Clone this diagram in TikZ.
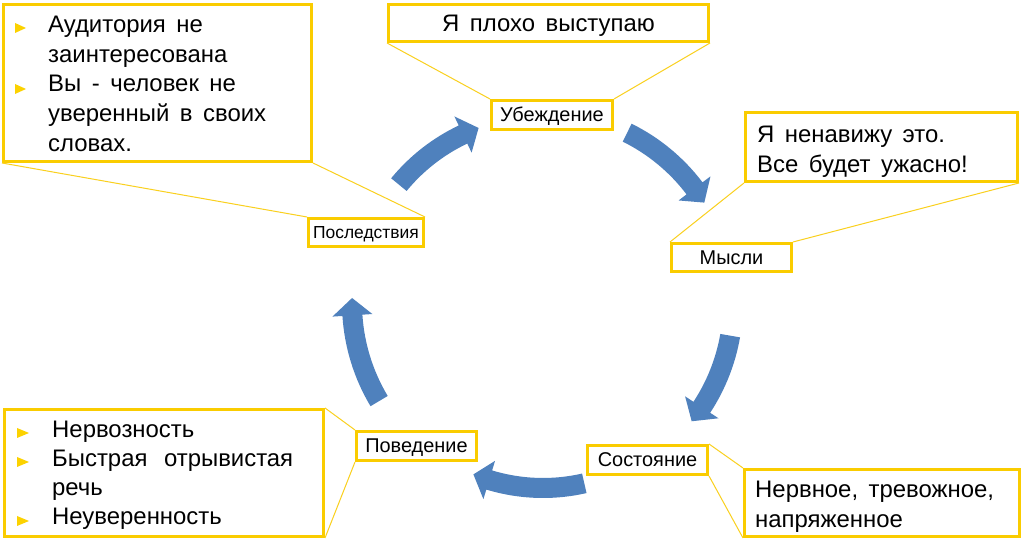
\documentclass[tikz,border=0pt]{standalone}
\usepackage{fontspec}
\setmainfont{Liberation Sans}
\usetikzlibrary{calc}
\definecolor{ybord}{RGB}{250,204,0}
\definecolor{yline}{RGB}{250,208,30}
\definecolor{ybul}{RGB}{252,210,0}
\definecolor{ablue}{RGB}{79,129,189}
\newcommand\bigfont{\fontsize{24}{30}\selectfont}
\newcommand\bigfontb{\fontsize{24}{29.3}\selectfont}
\newcommand\widesp{\spaceskip=10.5bp\relax}
\newcommand\cycarrow[3]{%
 \pgfmathsetmacro\caHB{#3+5.2}%
 \pgfmathsetmacro\caRO{#1+10}%
 \pgfmathsetmacro\caRI{#1-10}%
 \pgfmathsetmacro\caHO{#1+20}%
 \pgfmathsetmacro\caHI{#1-20}%
 \fill[ablue] (#2:\caRO) arc[start angle=#2, end angle=\caHB, radius=\caRO] -- (\caHB:\caHO) -- (#3:#1) -- (\caHB:\caHI) -- (\caHB:\caRI) arc[start angle=\caHB, end angle=#2, radius=\caRI] -- cycle;}
\begin{document}
\begin{tikzpicture}[x=1bp,y=1bp,
 box/.style={draw=ybord, line width=3bp, fill=white, inner sep=0pt},
 lab/.style={box, font=\fontsize{20}{24}\selectfont, text height=14bp, text depth=0bp},
 big/.style={font=\bigfont, inner sep=0pt, anchor=north west, align=left, text width=#1},
 conn/.style={draw=yline, line width=1bp},
 bul/.style={fill=ybul}]
\useasboundingbox[fill=white] (0,0) rectangle (1024,549);

% cycle arrows
\begin{scope}[shift={(543,246)}]
\cycarrow{186.5}{140.6}{110.2}
\cycarrow{190}{63.7}{31.9}
\cycarrow{190}{-9.9}{-38.5}
\cycarrow{185}{-77.1}{-112.1}
\cycarrow{191}{210.9}{178.5}
\end{scope}

% boxes
\node[box, minimum width=308bp, minimum height=157bp] (b1) at (157.5,466) {};
\node[big=260bp] (b1t) at (48,535) {\widesp\rule{0pt}{18bp}Аудитория не\\заинтересована\\Вы - человек не\\уверенный в своих\\словах.};

\node[box, minimum width=320bp, minimum height=37bp, font=\bigfont, text height=23bp, text depth=5bp] (bTop) at (548.5,526) {\widesp Я плохо выступаю};

\node[lab, minimum width=121bp, minimum height=29bp] (ub) at (552,434) {Убеждение};
\node[lab, minimum width=120bp, minimum height=28bp] (mys) at (731.5,291.5) {Мысли};
\node[lab, minimum width=115bp, minimum height=28bp, font=\fontsize{17.5}{21}\selectfont, text height=12.5bp] (pos) at (366,316.5) {Последствия};
\node[lab, minimum width=120bp, minimum height=29bp] (pov) at (416.5,103) {Поведение};
\node[lab, minimum width=120bp, minimum height=29bp] (sos) at (647.5,89) {Состояние};

\node[box, minimum width=272bp, minimum height=69bp] (bRT) at (881.5,402) {};
\node[big=250bp] (bRTt) at (757,425) {\widesp\rule{0pt}{18bp}Я ненавижу это.\\Все будет ужасно!};

\node[box, minimum width=319bp, minimum height=127bp] (bLB) at (164,76) {};
\node[big=260bp, font=\bigfontb] (bLBt) at (52,130) {\widesp\rule{0pt}{18bp}Нервозность\\Быстрая\hspace{6bp} отрывистая\\речь\\Неуверенность};

\node[box, minimum width=275bp, minimum height=67bp] (bRB) at (882,46) {};
\node[big=260bp] (bRBt) at (755,70) {\widesp\rule{0pt}{18bp}Нервное, тревожное,\\напряженное};

% bullets
\fill[bul] (15,526) -- (26,521) -- (15,516) -- cycle;
\fill[bul] (15,465) -- (26,460) -- (15,455) -- cycle;
\fill[bul] (17,121) -- (29,116) -- (17,111) -- cycle;
\fill[bul] (17,92) -- (29,87) -- (17,82) -- cycle;
\fill[bul] (17,33) -- (29,28) -- (17,23) -- cycle;

% callout connectors
\draw[conn] (bTop.south west) -- (ub.north west) (bTop.south east) -- (ub.north east);
\draw[conn] (bRT.south west) -- (mys.north west) (bRT.south east) -- (mys.north east);
\draw[conn] (b1.south west) -- (pos.north west) (b1.south east) -- (pos.north east);
\draw[conn] (bLB.north east) -- (pov.north west) (bLB.south east) -- (pov.south west);
\draw[conn] (sos.north east) -- (bRB.north west) (sos.south east) -- (bRB.south west);
\end{tikzpicture}
\end{document}
